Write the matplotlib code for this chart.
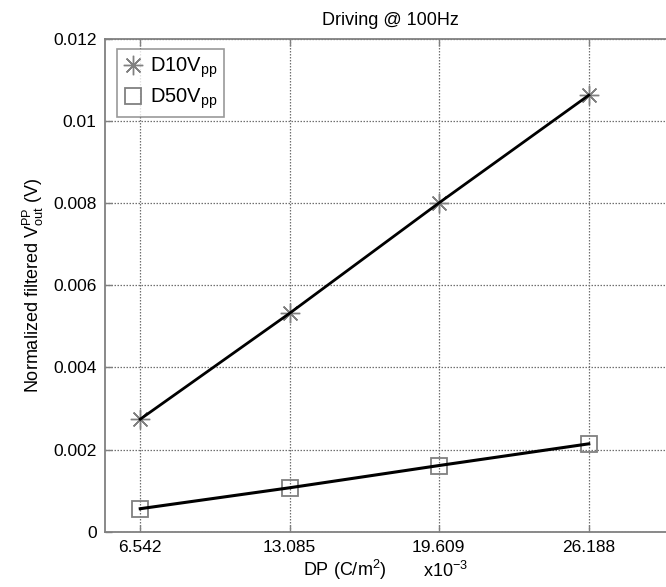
import matplotlib
matplotlib.use("Agg")
import matplotlib.pyplot as plt

plt.rcParams['font.family'] = ['Liberation Sans', 'DejaVu Sans']
plt.rcParams['mathtext.fontset'] = 'custom'
plt.rcParams['mathtext.rm'] = 'Liberation Sans'
plt.rcParams['mathtext.it'] = 'Liberation Sans'

# DP values (x1e-3 C/m^2) and normalized filtered output (V)
dp = [6.542, 13.085, 19.609, 26.188]
d10_vpp = [0.00274, 0.00532, 0.00800, 0.01063]
d50_vpp = [0.00056, 0.00107, 0.00161, 0.00214]
x_ticklabels = ['6.542', '13.085', '19.609', '26.188']
y_ticks = [0, 0.002, 0.004, 0.006, 0.008, 0.01, 0.012]
y_ticklabels = ['0', '0.002', '0.004', '0.006', '0.008', '0.01', '0.012']

fig = plt.figure(figsize=(6.66, 5.87), dpi=100)
ax = fig.add_axes([0.1577, 0.0942, 0.857, 0.8394])

gray = '#808080'
asterisk = (8, 2, 0)

ax.plot(dp, d10_vpp, linestyle='none', marker=asterisk, markersize=14,
        markeredgecolor=gray, markeredgewidth=1.0, zorder=3)
ax.plot(dp, d50_vpp, linestyle='none', marker='s', markersize=12,
        markerfacecolor='none', markeredgecolor=gray, markeredgewidth=1.3, zorder=3)
ax.plot(dp, d10_vpp, color='black', linewidth=2.0, zorder=4)
ax.plot(dp, d50_vpp, color='black', linewidth=2.2, zorder=4)

# legend proxies
h1, = ax.plot([], [], linestyle='none', marker=asterisk, markersize=14,
              markeredgecolor=gray, markeredgewidth=1.0)
h2, = ax.plot([], [], linestyle='none', marker='s', markersize=12,
              markerfacecolor='none', markeredgecolor=gray, markeredgewidth=1.3)
leg = ax.legend([h1, h2], ['D10V$_{pp}$', 'D50V$_{pp}$'], loc='upper left',
                bbox_to_anchor=(0.021, 0.979), fontsize=14.5, frameon=True,
                fancybox=False, edgecolor=gray, handlelength=1.0,
                handletextpad=0.35, borderpad=0.3, labelspacing=0.35,
                borderaxespad=0)
leg.get_frame().set_linewidth(1.2)

ax.set_xlim(5, 30)
ax.set_ylim(0, 0.012)
ax.set_xticks(dp)
ax.set_xticklabels(x_ticklabels)
ax.set_yticks(y_ticks)
ax.set_yticklabels(y_ticklabels)
ax.tick_params(direction='in', length=5, width=1, color=gray,
               labelsize=12.5, pad=6, top=True)

ax.grid(True, linestyle=(0, (1.2, 1.2)), color='#707070', linewidth=0.9)
ax.set_axisbelow(True)

for side in ['left', 'bottom', 'top']:
    ax.spines[side].set_color(gray)
    ax.spines[side].set_linewidth(1.3)
ax.spines['right'].set_visible(False)

ax.set_title('Driving @ 100Hz', fontsize=13, pad=10)
ax.set_ylabel('Normalized filtered V$_{out}^{PP}$ (V)', fontsize=13, labelpad=5)
fig.text(345 / 666, 1 - 570 / 587, 'DP (C/m$^2$)', fontsize=13,
         ha='center', va='center')
fig.text(446 / 666, 1 - 571 / 587, 'x10$^{-3}$', fontsize=13,
         ha='center', va='center')

fig.savefig('out.png', dpi=100)
